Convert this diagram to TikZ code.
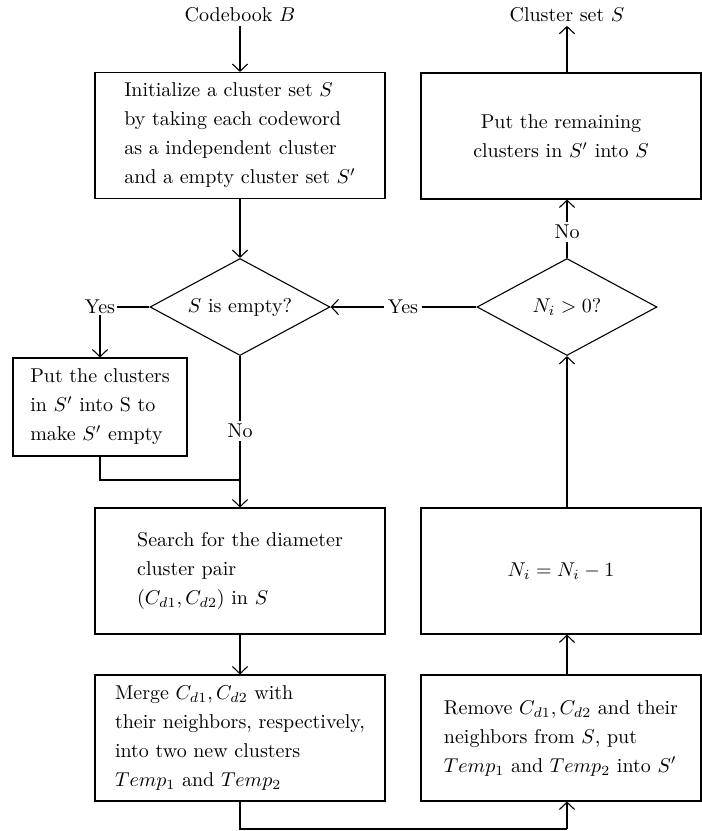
\documentclass[tikz,border=0pt]{standalone}
\usepackage{amsmath,amssymb}
\usepackage{tikz}
\usetikzlibrary{shapes.geometric,arrows,arrows.meta}

\begin{document}
\begin{tikzpicture}[x=0.5pt,y=-0.5pt,line width=0.55pt,
	>={Straight Barb[length=3.6pt,width=7.6pt]},
	box/.style={draw,rectangle,align=left,inner sep=0pt,font=\fontsize{10}{14.5}\selectfont},
	bigbox/.style={box,minimum width=145pt,minimum height=63pt},
	sidebox/.style={box,minimum width=140pt,minimum height=63pt},
	decision/.style={draw,diamond,inner sep=0pt,aspect=1.86,minimum width=90pt,minimum height=48.5pt},
	lbl/.style={inner sep=1.5pt}]
	\useasboundingbox (0,0) rectangle (702,831);
	%
	\node [lbl] (cb) at (240,15) {Codebook $B$};
	\node [lbl] (cs) at (567,15) {Cluster set $S$};
	\node [bigbox] (init) at (240,135.5) {Initialize a cluster set $S$\\ by taking each codeword\\ as a independent cluster\\ and a empty cluster set $S'$};
	\node [sidebox,align=center] (rem) at (561,136) {Put the remaining\\ clusters in $S'$ into $S$};
	\node [decision] (d1) at (240,307) {$S$ is empty?};
	\node [decision] (d2) at (567,307) {$N_i > 0$?};
	\node [lbl,inner sep=0.5pt] (yes1) at (100,307) {Yes};
	\node [lbl] (yes2) at (403,307) {Yes};
	\node [lbl] (no1) at (240,431) {No};
	\node [lbl] (no2) at (567,232) {No};
	\node [box,minimum width=87pt,minimum height=49pt] (put) at (100,407) {Put the clusters\\ in $S'$ into S to\\ make $S'$ empty};
	\node [bigbox] (search) at (240,571) {Search for the diameter\\ cluster pair\\ $(C_{d1}, C_{d2})$ in $S$};
	\node [bigbox] (merge) at (240,738) {Merge $C_{d1}, C_{d2}$ with\\ their neighbors, respectively,\\ into two new clusters\\ $Temp_1$ and $Temp_2$};
	\node [sidebox,align=center] (dec) at (561,571) {$N_i = N_i - 1$};
	\node [sidebox] (remove) at (561,738) {Remove $C_{d1}, C_{d2}$ and their\\ neighbors from $S$, put\\ $Temp_1$ and $Temp_2$ into $S'$};
	\coordinate (j1) at (240,480);
	\coordinate (j2) at (567,829);
	%
	%
	%
	\draw [->] (cb) edge (init);
	\draw [->] (init) edge (d1);
	\draw (d1) edge (yes1);
	\draw [->] (yes1) edge (put);
	\draw (d1) edge (no1);
	\draw [->] (no1) edge (search);
	\draw (put.south) |- (j1);
	\draw [->] (search) edge (merge);
	\draw (merge.south) |- (j2);
	\draw [->] (j2) -- (j2 |- remove.south);
	\draw [->] (j2 |- remove.north) -- (j2 |- dec.south);
	\draw [->] (j2 |- dec.north) -- (d2.south);
	\draw (d2) edge (yes2);
	\draw [->] (yes2) edge (d1);
	\draw (d2) edge (no2);
	\draw [->] (no2) -- (j2 |- rem.south);
	\draw [->] (j2 |- rem.north) -- (cs);
\end{tikzpicture}
\end{document}
